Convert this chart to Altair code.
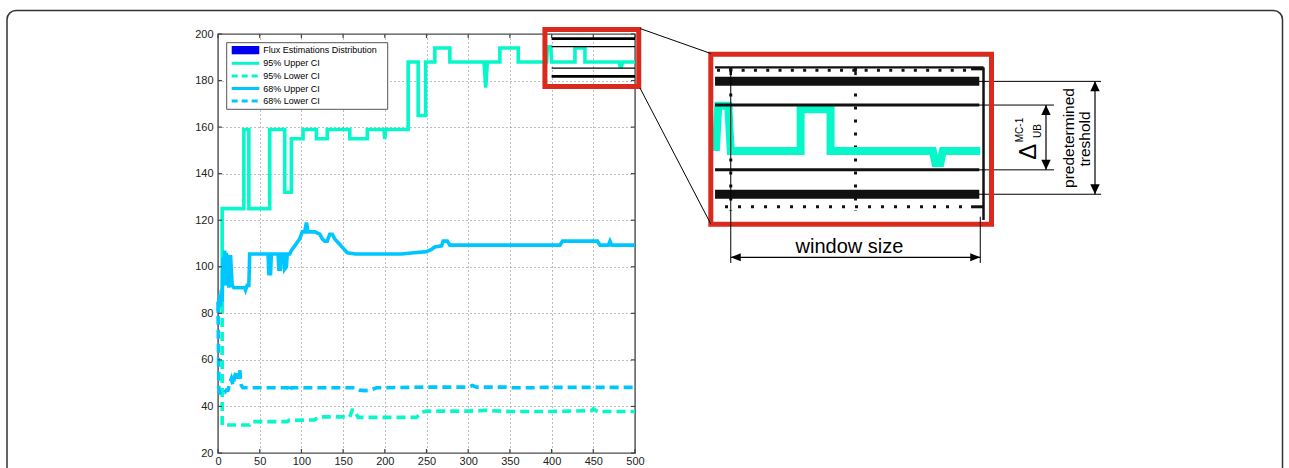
import altair as alt
import pandas as pd

# Monte Carlo convergence traces: iteration number vs. flux estimate
u95_x = [5, 5, 31, 31, 37, 37, 62, 62, 80, 80, 88, 88, 102, 102, 118, 118, 131, 131, 158, 158,
         179, 179, 199, 200, 201, 228, 228, 240, 240, 249, 249, 260, 260, 278, 278, 319, 321, 323,
         338, 338, 360, 360, 394, 395, 399, 400, 428, 428, 440, 440, 481, 482, 484, 485, 500]
u95_y = [84, 125, 125, 159, 159, 125, 125, 159, 159, 132, 132, 155, 155, 159, 159, 155, 155, 159, 159, 155,
         155, 159, 159, 155, 159, 159, 188, 188, 165, 165, 188, 188, 194, 194, 188, 188, 177, 188,
         188, 194, 194, 188, 188, 194.5, 194.5, 188, 188, 194, 194, 188, 188, 186.3, 186.3, 188, 188]

l95_x = [5, 5, 38, 41, 83, 85, 116, 120, 158, 161, 163, 168, 238, 244, 250, 300, 320, 350, 400, 420,
         448, 450, 455, 500]
l95_y = [84, 32, 32, 33.5, 33.5, 34, 34.2, 35.5, 35.5, 38.5, 38.5, 35.3, 35.3, 37.5, 38, 38, 38.3, 37.8, 37.8, 38,
         38.2, 39, 37.8, 37.8]

u68_x = [0, 1, 2, 3, 4, 5, 6, 7, 8, 9, 10, 11, 12, 13, 15, 17, 19, 32, 33, 35, 37, 38, 60, 61, 63, 64,
         72, 73, 75, 76, 79, 80, 82, 83, 86, 88, 92, 94, 98, 101, 104, 106, 108, 116, 122, 125, 128,
         131, 134, 137, 140, 145, 150, 155, 165, 220, 235, 250, 256, 260, 268, 270, 275, 278, 410,
         413, 455, 458, 468, 470, 472, 500]
u68_y = [80, 83, 88, 83, 90, 85, 104, 92, 107, 95, 106, 92, 105, 91, 105, 92, 91, 91, 90, 92, 92, 105.5,
         105.5, 97, 97, 105.5, 105.5, 99, 99, 105.5, 105.5, 99, 100, 105.5, 105.5, 107, 109, 110, 112,
         115, 115, 119, 115, 115, 114, 112, 111, 111, 114, 114, 112, 110, 108, 106, 105.5, 105.5, 106,
         106.5, 107.5, 108.5, 109, 111, 111, 109.3, 109.3, 111, 111, 109.3, 109.3, 111, 109.3, 109.3]

l68_x = [0, 1, 2, 4, 6, 8, 10, 12, 14, 16, 18, 20, 22, 24, 26, 27, 28, 30, 84, 86, 88, 165, 170,
         176, 182, 190, 250, 300, 305, 310, 345, 350, 380, 390, 500]
l68_y = [85, 48, 46, 45, 46, 46, 47, 47, 50, 52, 49, 53, 55, 52, 56, 52, 49, 48, 48, 46.3, 48, 48, 47,
         46.8, 47, 48, 48.3, 48.3, 49, 48.3, 48.3, 48, 48, 48.2, 48.2]

x_ticks = [0, 50, 100, 150, 200, 250, 300, 350, 400, 450, 500]
y_ticks = [20, 40, 60, 80, 100, 120, 140, 160, 180, 200]

legend_labels = ["Flux Estimations Distribution", "95% Upper CI", "95% Lower CI",
                 "68% Upper CI", "68% Lower CI"]

# magnified region and convergence criterion
zoom_x = [392, 504.5]
zoom_y = [177.5, 201.9]
window = [400, 500]
band_thick = [198.0, 181.8]
band_thin = [194.6, 185.3]
inset_span = [393.7, 499.6]
inset_grid_x = [400, 450]
inset_grid_y = [180]
inset_frame = [501.3, 200, 178.1]

window_label = "window size"
threshold_label = ["predetermined", "treshold"]
delta_label = ["\u0394", "MC-1", "UB"]

FONT = "Liberation Sans"
AQUA = "#08F7CA"
SKY = "#00C6FF"
BLUE = "#0000F0"
RED = "#DA2A1E"
OX, OY = 218, 34  # plot-area origin on the page


def rx(p):
    return p - OX


def ry(p):
    return p - OY


def trace(xs, ys):
    return pd.DataFrame({"x": xs, "y": ys, "i": list(range(len(xs)))})


# ---------- main panel ----------
mx = alt.Scale(domain=[0, 500], nice=False, zero=False)
my = alt.Scale(domain=[20, 200], nice=False, zero=False)
ax = alt.Axis(values=x_ticks, grid=True, gridDash=[1, 3], gridColor="#7a7a7a", gridWidth=1,
              ticks=False, domain=False, labelFlush=False, labelOverlap=False, labelPadding=2,
              labelFont=FONT, labelFontSize=11, labelColor="#222", title=None)
ay = alt.Axis(values=y_ticks, grid=True, gridDash=[1, 3], gridColor="#7a7a7a", gridWidth=1,
              ticks=False, domain=False, labelFlush=False, labelOverlap=False, labelPadding=5,
              labelFont=FONT, labelFontSize=11, labelColor="#222", title=None)


def MX(f):
    return alt.X(f, type="quantitative", scale=mx, axis=ax)


def MY(f):
    return alt.Y(f, type="quantitative", scale=my, axis=ay)


def series(xs, ys, color, dash=None):
    opts = dict(color=color, strokeWidth=3.6, strokeCap="butt")
    if dash:
        opts["strokeDash"] = dash
    return alt.Chart(trace(xs, ys)).mark_line(**opts).encode(
        x=MX("x"), y=MY("y"), order="i:Q")


main_layers = [
    series(u95_x, u95_y, AQUA),
    series(l95_x, l95_y, AQUA, [9, 5]),
    series(u68_x, u68_y, SKY),
    series(l68_x, l68_y, SKY, [9, 5]),
]

# inward tick marks on all four sides
yt = alt.Chart(pd.DataFrame({"v": y_ticks}))
xt = alt.Chart(pd.DataFrame({"v": x_ticks}))
tick_style = dict(color="#444", strokeWidth=1.2)
main_layers += [
    yt.mark_rule(**tick_style).encode(y=MY("v"), x=alt.value(0), x2=alt.value(4)),
    yt.mark_rule(**tick_style).encode(y=MY("v"), x=alt.value(413), x2=alt.value(417)),
    xt.mark_rule(**tick_style).encode(x=MX("v"), y=alt.value(0), y2=alt.value(4)),
    xt.mark_rule(**tick_style).encode(x=MX("v"), y=alt.value(415), y2=alt.value(419)),
]

# convergence band inside the highlighted window
main_layers += [
    alt.Chart(pd.DataFrame({"y": band_thick, "a": window[0], "b": window[1]}))
    .mark_rule(color="black", strokeWidth=2.7).encode(x=MX("a"), x2="b:Q", y=MY("y")),
    alt.Chart(pd.DataFrame({"y": band_thin, "a": window[0], "b": window[1]}))
    .mark_rule(color="black", strokeWidth=1.3).encode(x=MX("a"), x2="b:Q", y=MY("y")),
]

zoom_df = pd.DataFrame({"x0": [zoom_x[0]], "x1": [zoom_x[1]], "y0": [zoom_y[0]], "y1": [zoom_y[1]]})
main_layers.append(
    alt.Chart(zoom_df).mark_rect(fillOpacity=0, stroke=RED, strokeWidth=5)
    .encode(x=MX("x0"), x2="x1:Q", y=MY("y0"), y2="y1:Q"))

main_panel = alt.layer(*main_layers)

# ---------- magnified inset ----------
ix = alt.Scale(domain=zoom_x, range=[rx(710.8), rx(991.5)], nice=False, zero=False)
iy = alt.Scale(domain=zoom_y, range=[ry(224.2), ry(54.2)], nice=False, zero=False)


def IX(f):
    return alt.X(f, type="quantitative", scale=ix, axis=None)


def IY(f):
    return alt.Y(f, type="quantitative", scale=iy, axis=None)


dots = dict(color="#111", strokeWidth=3, strokeDash=[3, 10])
inset_layers = [
    # magnified dotted grid
    alt.Chart(pd.DataFrame({"x": inset_grid_x, "t": inset_frame[1], "b": 179.4}))
    .mark_rule(**dots).encode(x=IX("x"), y=IY("t"), y2="b:Q"),
    alt.Chart(pd.DataFrame({"y": inset_grid_y, "a": 397.7, "b": 496}))
    .mark_rule(**dots).encode(y=IY("y"), x=IX("a"), x2="b:Q"),
    alt.Chart(pd.DataFrame({"y": [199.6], "a": 394.5, "b": 497}))
    .mark_rule(color="#111", strokeWidth=3, strokeDash=[3, 9.3]).encode(y=IY("y"), x=IX("a"), x2="b:Q"),
    # magnified axes frame
    alt.Chart(pd.DataFrame({"y": [inset_frame[1]], "a": inset_span[0], "b": inset_frame[0]}))
    .mark_rule(color="#111", strokeWidth=2.2).encode(y=IY("y"), x=IX("a"), x2="b:Q"),
    alt.Chart(pd.DataFrame({"x": [inset_frame[0]], "t": inset_frame[1], "b": inset_frame[2]}))
    .mark_rule(color="#111", strokeWidth=2.5).encode(x=IX("x"), y=IY("t"), y2="b:Q"),
    alt.Chart(pd.DataFrame({"x": inset_grid_x, "t": inset_frame[1], "b": 198.9}))
    .mark_rule(color="#111", strokeWidth=2.5).encode(x=IX("x"), y=IY("t"), y2="b:Q"),
    alt.Chart(pd.DataFrame({"y": [180, 199.8], "a": 496.3, "b": inset_frame[0]}))
    .mark_rule(color="#111", strokeWidth=3).encode(y=IY("y"), x=IX("a"), x2="b:Q"),
    # magnified 95% upper CI
    alt.Chart(trace(u95_x, u95_y)).transform_filter("datum.x >= 390")
    .mark_line(color=AQUA, strokeWidth=8, strokeCap="butt").encode(x=IX("x"), y=IY("y"), order="i:Q"),
    # convergence band
    alt.Chart(pd.DataFrame({"y": band_thick, "a": inset_span[0], "b": inset_span[1]}))
    .mark_rule(color="#111", strokeWidth=9).encode(y=IY("y"), x=IX("a"), x2="b:Q"),
    alt.Chart(pd.DataFrame({"y": band_thin, "a": inset_span[0], "b": inset_span[1]}))
    .mark_rule(color="#111", strokeWidth=3).encode(y=IY("y"), x=IX("a"), x2="b:Q"),
    # leader lines to the dimension arrows
    alt.Chart(pd.DataFrame({"y": band_thick}))
    .mark_rule(color="black", strokeWidth=1).encode(y=IY("y"), x=alt.value(rx(979)), x2=alt.value(rx(1101))),
    alt.Chart(pd.DataFrame({"y": band_thin}))
    .mark_rule(color="black", strokeWidth=1).encode(y=IY("y"), x=alt.value(rx(979)), x2=alt.value(rx(1054))),
    # inset border
    alt.Chart(zoom_df).mark_rect(fillOpacity=0, stroke=RED, strokeWidth=5)
    .encode(x=IX("x0"), x2="x1:Q", y=IY("y0"), y2="y1:Q"),
]

ARROW_UP = "M0,0L-0.47,1L0.47,1Z"
ARROW_DOWN = "M0,0L-0.47,-1L0.47,-1Z"
ARROW_LEFT = "M0,0L1,-0.4L1,0.4Z"
ARROW_RIGHT = "M0,0L-1,-0.4L-1,0.4Z"
head = dict(filled=True, size=400, color="black", opacity=1, strokeWidth=0)

# "window size" dimension
win = alt.Chart(pd.DataFrame({"a": [window[0]], "b": [window[1]]}))
inset_layers += [
    win.mark_rule(color="black", strokeWidth=1).encode(x=IX("a"), y=alt.value(ry(70)), y2=alt.value(ry(263))),
    win.mark_rule(color="black", strokeWidth=1).encode(x=IX("b"), y=alt.value(ry(216.7)), y2=alt.value(ry(263))),
    win.mark_rule(color="black", strokeWidth=1.2).encode(x=IX("a"), x2="b:Q", y=alt.value(ry(257.3))),
    win.mark_point(shape=ARROW_LEFT, **head).encode(x=IX("a"), y=alt.value(ry(257.3))),
    win.mark_point(shape=ARROW_RIGHT, **head).encode(x=IX("b"), y=alt.value(ry(257.3))),
]


def v_arrow(levels, px):
    d = alt.Chart(pd.DataFrame({"t": [levels[0]], "b": [levels[1]]}))
    return [
        d.mark_rule(color="black", strokeWidth=1.2).encode(x=alt.value(rx(px)), y=IY("t"), y2="b:Q"),
        d.mark_point(shape=ARROW_UP, **head).encode(x=alt.value(rx(px)), y=IY("t")),
        d.mark_point(shape=ARROW_DOWN, **head).encode(x=alt.value(rx(px)), y=IY("b")),
    ]


inset_layers += v_arrow(band_thin, 1046) + v_arrow(band_thick, 1095)
inset_panel = alt.layer(*inset_layers)


# ---------- page-level decorations ----------
def label(text, px, py, size, angle=0, align="center", baseline="middle"):
    opts = dict(font=FONT, fontSize=size, align=align, baseline=baseline, color="black")
    if angle:
        opts["angle"] = angle
    return alt.Chart(pd.DataFrame({"t": [text]})).mark_text(**opts).encode(
        x=alt.value(rx(px)), y=alt.value(ry(py)), text="t:N")


one = alt.Chart(pd.DataFrame({"k": [0]}))
page_border = one.mark_rect(fillOpacity=0, stroke="#333", strokeWidth=1.5, cornerRadius=9).encode(
    x=alt.value(rx(7)), x2=alt.value(rx(1282.5)), y=alt.value(ry(10.5)), y2=alt.value(ry(520)))

connectors = [
    one.mark_rule(color="black", strokeWidth=1).encode(
        x=alt.value(rx(640)), y=alt.value(ry(28.5)), x2=alt.value(rx(710.8)), y2=alt.value(ry(53.5))),
    one.mark_rule(color="black", strokeWidth=1).encode(
        x=alt.value(rx(640)), y=alt.value(ry(88)), x2=alt.value(rx(710.8)), y2=alt.value(ry(224))),
]

# legend box
legend = [
    one.mark_rect(fill="white", stroke="#555", strokeWidth=1).encode(
        x=alt.value(rx(226.7)), x2=alt.value(rx(387.7)), y=alt.value(ry(42.7)), y2=alt.value(ry(109.3))),
    one.mark_rect(fill=BLUE).encode(
        x=alt.value(rx(231.7)), x2=alt.value(rx(259.3)), y=alt.value(ry(46)), y2=alt.value(ry(54.3))),
]
legend_colors = [AQUA, AQUA, SKY, SKY]
legend_dash = [None, [6, 4], None, [6, 4]]
row_y = [50.2, 63.3, 76, 88.5, 101]
for k in range(4):
    opts = dict(color=legend_colors[k], strokeWidth=3)
    if legend_dash[k]:
        opts["strokeDash"] = legend_dash[k]
    legend.append(one.mark_rule(**opts).encode(
        x=alt.value(rx(231.7)), x2=alt.value(rx(259.3)), y=alt.value(ry(row_y[k + 1]))))
for k, t in enumerate(legend_labels):
    legend.append(label(t, 263.3, row_y[k], 9, align="left"))

texts = [
    label(window_label, 849.5, 253, 20, baseline="alphabetic"),
    label(threshold_label[0], 1068.5, 138, 15.5, angle=270),
    label(threshold_label[1], 1084.5, 139, 15.5, angle=270),
    label(delta_label[0], 1029, 151.7, 24, angle=270),
    label(delta_label[1], 1020, 130, 10, angle=270),
    label(delta_label[2], 1038, 131, 10, angle=270),
]

chart = alt.layer(
    page_border, main_panel, inset_panel, *connectors, *legend, *texts
).resolve_scale(
    x="independent", y="independent"
).properties(
    width=417, height=419,
    padding={"left": OX, "top": OY, "right": 1289 - OX - 417, "bottom": 468 - OY - 419},
    autosize=alt.AutoSizeParams(type="none"),
    background="white",
).configure_view(stroke="#4a4a4a", strokeWidth=1.4)

chart.save("out.html", embed_options={"renderer": "svg", "actions": False})
